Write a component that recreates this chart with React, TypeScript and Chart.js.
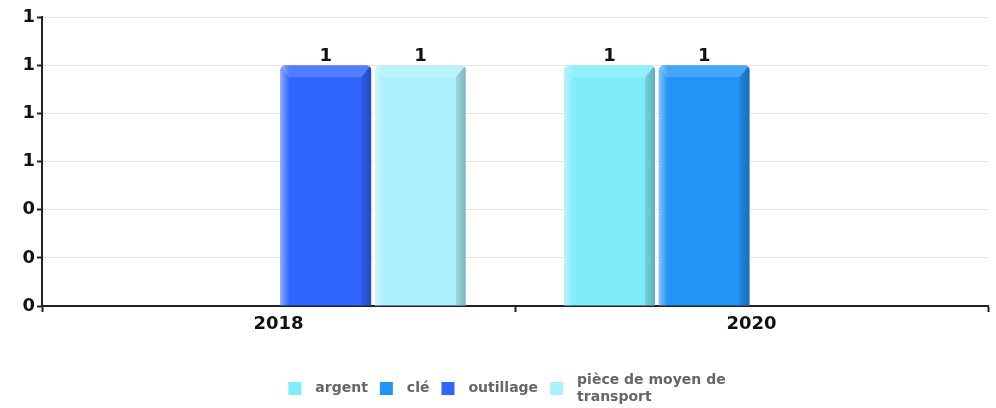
import React, { useEffect, useRef } from 'react';
import { Chart, registerables } from 'chart.js';

Chart.register(...registerables);

// ---- data ----
const categories = ['2018', '2020'];
const seriesNames = ['argent', 'clé', 'outillage', 'pièce de moyen de transport'];
const argentValues = [null, 1];
const cleValues = [null, 1];
const outillageValues = [1, null];
const pieceValues = [1, null];
const seriesColors = ['#80ECFA', '#2294F5', '#3165FF', '#ACF0FB'];
const yMin = 0;
const yMax = 1.2;
const yStep = 0.2;

const FONT = '"DejaVu Sans", sans-serif';

const bevelPlugin = {
  id: 'bevel',
  afterDatasetsDraw(chart: any) {
    const ctx = chart.ctx as CanvasRenderingContext2D;
    chart.data.datasets.forEach((ds: any, i: number) => {
      const meta = chart.getDatasetMeta(i);
      meta.data.forEach((bar: any, j: number) => {
        const v = ds.data[j];
        if (v == null) return;
        const { x, y, base, width } = bar.getProps(['x', 'y', 'base', 'width'], true);
        const l = x - width / 2;
        const r = x + width / 2;
        const t = y;
        const b = base;
        const rad = 5;
        ctx.save();
        ctx.beginPath();
        ctx.moveTo(l, b);
        ctx.lineTo(l, t + rad);
        ctx.quadraticCurveTo(l, t, l + rad, t);
        ctx.lineTo(r - rad, t);
        ctx.quadraticCurveTo(r, t, r, t + rad);
        ctx.lineTo(r, b);
        ctx.closePath();
        ctx.clip();
        // left highlight
        const g = ctx.createLinearGradient(l, 0, l + 9, 0);
        g.addColorStop(0, 'rgba(255,255,255,0.45)');
        g.addColorStop(1, 'rgba(255,255,255,0)');
        ctx.fillStyle = g;
        ctx.fillRect(l, t, 9, b - t);
        // top band
        ctx.fillStyle = 'rgba(255,255,255,0.16)';
        ctx.beginPath();
        ctx.moveTo(l, t);
        ctx.lineTo(r, t);
        ctx.lineTo(r - 10, t + 12);
        ctx.lineTo(l + 8, t + 12);
        ctx.closePath();
        ctx.fill();
        // right shade
        const g2 = ctx.createLinearGradient(r - 10, 0, r, 0);
        g2.addColorStop(0, 'rgba(0,0,0,0.1)');
        g2.addColorStop(1, 'rgba(0,0,0,0.26)');
        ctx.fillStyle = g2;
        ctx.beginPath();
        ctx.moveTo(r, t);
        ctx.lineTo(r, b);
        ctx.lineTo(r - 10, b);
        ctx.lineTo(r - 10, t + 12);
        ctx.closePath();
        ctx.fill();
        ctx.restore();
      });
    });
  },
};

const valueLabelPlugin = {
  id: 'valueLabels',
  afterDatasetsDraw(chart: any) {
    const ctx = chart.ctx as CanvasRenderingContext2D;
    ctx.save();
    ctx.font = `bold 18px ${FONT}`;
    ctx.fillStyle = '#111';
    ctx.textAlign = 'center';
    ctx.textBaseline = 'alphabetic';
    chart.data.datasets.forEach((ds: any, i: number) => {
      const meta = chart.getDatasetMeta(i);
      meta.data.forEach((bar: any, j: number) => {
        const v = ds.data[j];
        if (v == null) return;
        ctx.fillText(String(Math.round(v)), bar.x, bar.y - 4);
      });
    });
    ctx.restore();
  },
};

const legendPlugin = {
  id: 'customLegend',
  afterDraw(chart: any) {
    const ctx = chart.ctx as CanvasRenderingContext2D;
    ctx.save();
    ctx.font = `bold 14px ${FONT}`;
    const box = 13;
    const gapBoxText = 14;
    const gapItems = 12;
    const maxTextW = 165;
    const lineH = 17;
    const cy = 388.5;
    const items = chart.data.datasets.map((ds: any) => {
      const words = String(ds.label).split(' ');
      const lines: string[] = [];
      let cur = '';
      words.forEach((w: string) => {
        const test = cur ? cur + ' ' + w : w;
        if (ctx.measureText(test).width > maxTextW && cur) {
          lines.push(cur);
          cur = w;
        } else cur = test;
      });
      if (cur) lines.push(cur);
      const w = Math.max(...lines.map((s) => ctx.measureText(s).width));
      return { lines, w, color: ds.backgroundColor };
    });
    const total = items.reduce((a: number, it: any) => a + box + gapBoxText + it.w, 0) + gapItems * (items.length - 1);
    let x = 507 - total / 2;
    ctx.textBaseline = 'middle';
    ctx.textAlign = 'left';
    items.forEach((it: any) => {
      ctx.fillStyle = it.color;
      ctx.fillRect(x, cy - box / 2, box, box);
      ctx.fillStyle = '#666';
      const n = it.lines.length;
      it.lines.forEach((s: string, k: number) => {
        ctx.fillText(s, x + box + gapBoxText, cy + (k - (n - 1) / 2) * lineH);
      });
      x += box + gapBoxText + it.w + gapItems;
    });
    ctx.restore();
  },
};

export default function App() {
  const ref = useRef<HTMLCanvasElement>(null);
  useEffect(() => {
    document.body.style.margin = '0';
    const seriesValues = [argentValues, cleValues, outillageValues, pieceValues];
    const chart = new Chart(ref.current as HTMLCanvasElement, {
      type: 'bar',
      data: {
        labels: categories,
        datasets: seriesNames.map((name, i) => ({
          label: name,
          data: seriesValues[i] as any,
          backgroundColor: seriesColors[i],
          borderWidth: 0,
          borderRadius: { topLeft: 5, topRight: 5, bottomLeft: 0, bottomRight: 0 },
          borderSkipped: 'bottom',
          categoryPercentage: 0.8,
          barPercentage: 0.96,
        })),
      },
      options: {
        animation: false,
        responsive: false,
        maintainAspectRatio: false,
        layout: { padding: { left: 0, right: 8, top: 17, bottom: 72 } },
        plugins: {
          legend: { display: false },
          tooltip: { enabled: false },
        },
        scales: {
          x: {
            afterFit: (s: any) => { s.height = 30; },
            grid: {
              display: true,
              drawOnChartArea: false,
              offset: true,
              tickLength: 6,
              tickColor: '#222',
              tickWidth: 2,
            },
            border: { display: true, color: '#222', width: 2 },
            ticks: {
              color: '#111',
              font: { family: FONT, size: 18, weight: 'bold' },
              padding: 2,
            },
          },
          y: {
            min: yMin,
            max: yMax,
            afterFit: (s: any) => { s.width = 42; },
            grid: {
              color: '#e6e6e6',
              lineWidth: 1,
              tickLength: 5,
              tickColor: '#222',
              tickWidth: 2,
            },
            border: { display: true, color: '#222', width: 2 },
            ticks: {
              stepSize: yStep,
              color: '#111',
              font: { family: FONT, size: 18, weight: 'bold' },
              padding: 2,
              callback: (v: any) => String(Math.round(Number(v))),
            },
          },
        },
      },
      plugins: [bevelPlugin, valueLabelPlugin, legendPlugin],
    });
    return () => chart.destroy();
  }, []);
  return (
    <div style={{ width: 996, height: 408 }}>
      <canvas ref={ref} width={996} height={408} style={{ display: 'block' }} />
    </div>
  );
}
